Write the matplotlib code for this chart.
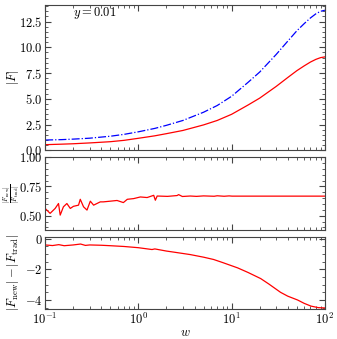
import matplotlib
matplotlib.use("Agg")
import matplotlib.pyplot as plt
from matplotlib.ticker import MultipleLocator

plt.rcParams['font.family'] = 'serif'
plt.rcParams['font.serif'] = ['cmr10']
plt.rcParams['mathtext.fontset'] = 'cm'
plt.rcParams['axes.formatter.use_mathtext'] = True
plt.rcParams['font.size'] = 9

# |F| curves
w = [0.1, 0.15, 0.2, 0.3, 0.5, 0.7, 1, 1.5, 2, 3, 5, 7, 10, 15, 20, 30,
     40, 50, 60, 70, 80, 90, 100]
F_trad = [1.00, 1.04, 1.09, 1.18, 1.37, 1.55, 1.80, 2.13, 2.43, 2.90, 3.70,
          4.35, 5.25, 6.60, 7.60, 9.30, 10.60, 11.60, 12.30, 12.85, 13.25,
          13.50, 13.60]
F_new = [0.55, 0.60, 0.64, 0.72, 0.84, 0.97, 1.17, 1.41, 1.62, 1.93, 2.47,
         2.90, 3.50, 4.40, 5.07, 6.20, 7.07, 7.73, 8.20, 8.57, 8.83, 9.00,
         9.07]

# ratio |F_new| / |F_trad| (middle panel)
w_ratio = [0.1, 0.113, 0.128, 0.139, 0.145, 0.157, 0.171, 0.186, 0.201,
           0.228, 0.238, 0.258, 0.281, 0.305, 0.331, 0.359, 0.39, 0.42, 0.50,
           0.59, 0.69, 0.76, 0.89, 1.05, 1.24, 1.46, 1.52, 1.59, 2.05, 2.2,
           2.6, 2.7, 2.96, 3.6, 4.2, 5.0, 6.5, 7.0, 8.3, 9.4, 10.1, 20, 50, 100]
ratio = [0.562, 0.52, 0.562, 0.604, 0.505, 0.576, 0.604, 0.562, 0.58, 0.59,
         0.64, 0.576, 0.548, 0.624, 0.59, 0.604, 0.618, 0.618, 0.624, 0.63,
         0.612, 0.64, 0.646, 0.66, 0.655, 0.674, 0.632, 0.668, 0.665, 0.667,
         0.672, 0.68, 0.664, 0.668, 0.665, 0.669, 0.666, 0.670, 0.666, 0.669,
         0.667, 0.667, 0.667, 0.667]

# difference |F_new| - |F_trad| (bottom panel)
w_diff = [0.1, 0.12, 0.14, 0.16, 0.2, 0.24, 0.27, 0.3, 0.4, 0.5, 0.7, 1.0,
          1.4, 1.5, 2.0, 2.4, 3.6, 5, 6.4, 8, 11.6, 15, 20.5, 25, 33.5, 40,
          51, 60, 71, 85, 100]
diff = [-0.40, -0.44, -0.38, -0.45, -0.40, -0.34, -0.43, -0.40, -0.42,
        -0.45, -0.50, -0.58, -0.70, -0.66, -0.80, -0.87, -1.03, -1.20, -1.35,
        -1.55, -1.90, -2.20, -2.60, -2.95, -3.50, -3.75, -4.00, -4.22, -4.40,
        -4.50, -4.52]

fig, (ax1, ax2, ax3) = plt.subplots(3, 1, sharex=True, figsize=(3.37, 3.39),
                                    dpi=100,
                                    gridspec_kw={'height_ratios': [2, 1, 1]})
fig.subplots_adjust(left=0.134, right=0.964, top=0.985, bottom=0.088,
                    hspace=0.07)

ax1.plot(w, F_trad, color='blue', ls='-.', lw=0.9)
ax1.plot(w, F_new, color='red', lw=0.9)
ax1.set_ylim(0, 14.1)
ax1.yaxis.set_major_locator(MultipleLocator(2.5))
ax1.yaxis.set_minor_locator(MultipleLocator(0.5))
ax1.set_ylabel(r'$|F|$')
ax1.text(0.2, 13.0, r'$y = 0.01$')

ax2.plot(w_ratio, ratio, color='red', lw=0.9)
ax2.set_ylim(0.38, 1.0)
ax2.yaxis.set_major_locator(MultipleLocator(0.25))
ax2.yaxis.set_minor_locator(MultipleLocator(0.05))
ax2.set_ylabel(r'$\frac{|F_{\rm new}|}{|F_{\rm trad}|}$', fontsize=7)

ax3.plot(w_diff, diff, color='red', lw=0.9)
ax3.set_ylim(-4.6, 0.15)
ax3.yaxis.set_major_locator(MultipleLocator(2))
ax3.yaxis.set_minor_locator(MultipleLocator(0.5))
ax3.set_ylabel(r'$|F_{\rm new}| - |F_{\rm trad}|$')
ax3.set_xlabel(r'$w$', labelpad=0)

ax3.set_xscale('log')
ax3.set_xlim(0.1, 100)

for ax in (ax1, ax2, ax3):
    ax.tick_params(which='both', direction='in', top=True, right=True,
                   color='#444444', pad=2)
    ax.tick_params(which='major', length=4, width=0.8)
    ax.tick_params(which='minor', length=2, width=0.6)
    for s in ax.spines.values():
        s.set_color('#444444')

ax1.yaxis.set_label_coords(-0.088, 0.5)
ax2.yaxis.set_label_coords(-0.078, 0.5)
ax3.yaxis.set_label_coords(-0.085, 0.5)
fig.savefig('out.png', dpi=100)
